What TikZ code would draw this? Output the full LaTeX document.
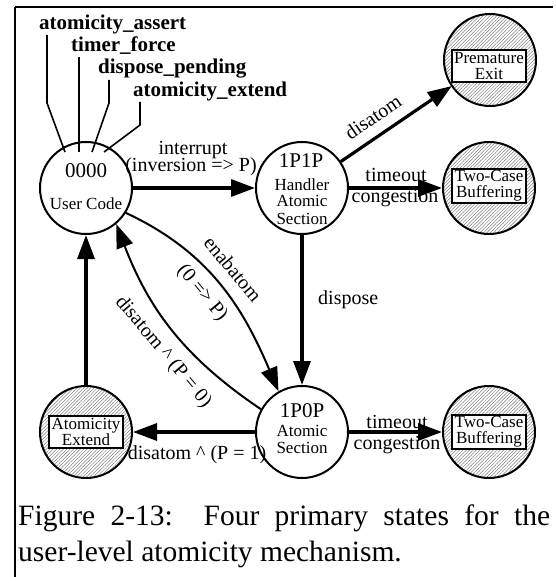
\documentclass[tikz,border=0pt]{standalone}
\usepackage{fontspec}
\setmainfont{Liberation Serif}
\usetikzlibrary{arrows.meta,patterns.meta}

\begin{document}
\begin{tikzpicture}[x=1pt,y=1pt,
  state/.style={circle,draw,line width=2pt,minimum size=92pt,inner sep=0pt},
  final/.style={state,pattern={Lines[angle=45,distance=2.4pt,line width=0.5pt]},pattern color=black!50},
  finalbox/.style={draw,fill=white,line width=2pt,inner xsep=2.5pt,inner ysep=2pt,
    align=center,font=\fontsize{17}{16}\selectfont},
  code/.style={anchor=base,inner sep=0pt,font=\fontsize{21}{21}\selectfont},
  sub/.style={anchor=base,inner sep=0pt,font=\fontsize{17}{17}\selectfont},
  elabel/.style={inner sep=0pt,font=\fontsize{20}{20}\selectfont},
  flag/.style={anchor=base west,inner sep=0pt,font=\fontsize{21}{21}\selectfont\bfseries},
  capt/.style={anchor=base west,inner sep=0pt,font=\fontsize{29.5}{29.5}\selectfont},
  arr/.style={line width=3.2pt,-{Triangle[length=24pt,width=17pt]}},
  carr/.style={line width=2pt,-{Triangle[length=24pt,width=17pt]}},
  lead/.style={line width=1.6pt},
  frame/.style={line width=2.5pt}
]
\useasboundingbox (0,0) rectangle (555,-577);

% frame
\coordinate (fl) at (15,-7);
\coordinate (fr) at (553,-7);
\coordinate (fb) at (15,-577);
\draw[frame] (fl) -- (fr);
\draw[frame] (fl) -- (fb);

% states
\node[state] (uc) at (86,-188) {};
\node[state] (p1) at (302,-188) {};
\node[state] (p0) at (302,-432) {};
\node[final] (pe) at (490,-60) {};
\node[final] (tc1) at (489,-188) {};
\node[final] (tc2) at (489,-432) {};
\node[final] (ae) at (86,-432) {};

% state texts
\node[code] (uc-code) at (86,-178) {0000};
\node[sub] (uc-name) at (86,-209) {User Code};
\node[code] (p1-code) at (301,-168) {1P1P};
\node[sub] (p1-n1) at (302,-190) {Handler};
\node[sub] (p1-n2) at (302,-207) {Atomic};
\node[sub] (p1-n3) at (302,-224) {Section};
\node[code] (p0-code) at (302,-417) {1P0P};
\node[sub] (p0-n1) at (302,-436) {Atomic};
\node[sub] (p0-n2) at (302,-453) {Section};

% exit boxes
\node[finalbox] (pe-box) at (489,-66) {Premature\\Exit};
\node[finalbox] (tc1-box) at (489,-186) {Two-Case\\Buffering};
\node[finalbox] (tc2-box) at (489,-432) {Two-Case\\Buffering};
\node[finalbox] (ae-box) at (86,-432) {Atomicity\\Extend};

% flag names and their leaders
\node[flag] (f1) at (39,-30) {atomicity\_assert};
\node[flag] (f2) at (71,-52) {timer\_force};
\node[flag] (f3) at (98,-74) {dispose\_pending};
\node[flag] (f4) at (133,-97) {atomicity\_extend};
\coordinate (f1s) at (47,-35);  \coordinate (f1k) at (47,-103);  \coordinate (b1) at (65,-152);
\coordinate (f2s) at (79,-57);  \coordinate (b2) at (79,-152);
\coordinate (f3s) at (109,-80); \coordinate (f3k) at (109,-103); \coordinate (b3) at (92,-152);
\coordinate (f4s) at (140,-102);\coordinate (f4k) at (140,-125); \coordinate (b4) at (104,-152);
\draw[lead] (f1s) -- (f1k) -- (b1);
\draw[lead] (f2s) -- (b2);
\draw[lead] (f3s) -- (f3k) -- (b3);
\draw[lead] (f4s) -- (f4k) -- (b4);

% transition labels
\node[elabel,anchor=base] (l-int1) at (193,-155) {interrupt};
\node[elabel,anchor=base] (l-int2) at (191,-172) {(inversion => P)};
\node[elabel,rotate=34] (l-dis) at (373,-117) {disatom};
\node[elabel,anchor=base] (l-to1) at (396,-182) {timeout};
\node[elabel,anchor=base] (l-co1) at (395,-202) {congestion};
\node[elabel,anchor=base west] (l-disp) at (318,-304) {dispose};
\node[elabel,anchor=base] (l-to2) at (397,-428) {timeout};
\node[elabel,anchor=base] (l-co2) at (397,-449) {congestion};
\node[elabel,anchor=base] (l-d1) at (197,-459) {disatom \textasciicircum\ (P = 1)};
\node[elabel,rotate=-50] (l-ena1) at (233,-269) {enabatom};
\node[elabel,rotate=-50] (l-ena2) at (202,-293) {(0 => P)};
\node[elabel,rotate=-50] (l-d0) at (163,-352) {disatom \textasciicircum\ (P = 0)};

% transitions
\draw[arr] (uc) -- (p1);
\draw[arr] (p1) -- (pe);
\draw[arr] (p1) -- (tc1);
\draw[arr] (p1) -- (p0);
\draw[arr] (p0) -- (tc2);
\draw[arr] (p0) -- (ae);
\draw[arr] (ae) -- (uc);
\draw[carr] (uc.-32) to[out=-25,in=113] (p0.120);
\draw[carr] (p0.151) to[out=146,in=-69] (uc.-50);

% caption
\node[capt] (cap1) at (18,-525) {\makebox[532pt][s]{Figure 2-13:\ \ Four primary states for the}};
\node[capt] (cap2) at (18,-561) {user-level atomicity mechanism.};
\end{tikzpicture}
\end{document}
